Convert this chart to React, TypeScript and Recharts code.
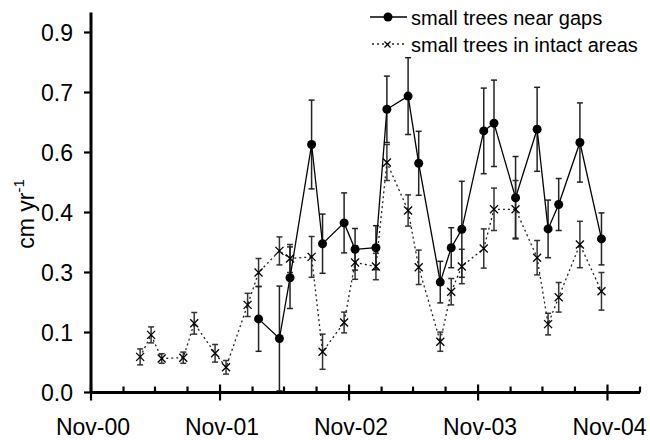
import React from "react";
import { LineChart, Line, XAxis, YAxis, ErrorBar } from "recharts";

// Sampling dates (intact-area series covers all of them)
const sampleDates = [
  "2001-03-20", "2001-04-20", "2001-05-20", "2001-07-20", "2001-08-20",
  "2001-10-18", "2001-11-18", "2002-01-18", "2002-02-18", "2002-04-18",
  "2002-05-18", "2002-07-18", "2002-08-18", "2002-10-18", "2002-11-18",
  "2003-01-16", "2003-02-16", "2003-04-17", "2003-05-17", "2003-07-17",
  "2003-08-17", "2003-09-16", "2003-11-17", "2003-12-16", "2004-02-15",
  "2004-04-16", "2004-05-17", "2004-06-16", "2004-08-15", "2004-10-15",
];

// Small trees in intact areas: mean growth and error (cm/yr)
const intactMean = [
  0.089, 0.144, 0.085, 0.087, 0.173, 0.098, 0.063, 0.219, 0.3, 0.354,
  0.335, 0.339, 0.102, 0.175, 0.325, 0.315, 0.575, 0.455, 0.313, 0.127,
  0.252, 0.315, 0.36, 0.458, 0.458, 0.337, 0.171, 0.238, 0.37, 0.253,
];
const intactErr = [
  0.02, 0.02, 0.012, 0.014, 0.027, 0.022, 0.017, 0.029, 0.035, 0.035,
  0.035, 0.051, 0.044, 0.026, 0.042, 0.033, 0.045, 0.039, 0.043, 0.024,
  0.033, 0.043, 0.049, 0.053, 0.072, 0.043, 0.027, 0.037, 0.058, 0.047,
];

// Small trees near gaps start at the 9th sampling date
const gapStartIndex = 8;
const gapMean = [
  0.184, 0.135, 0.287, 0.62, 0.372, 0.424, 0.358, 0.362, 0.708, 0.741,
  0.573, 0.276, 0.362, 0.408, 0.654, 0.673, 0.487, 0.658, 0.409, 0.47,
  0.625, 0.384,
];
const gapErr = [
  0.081, 0.131, 0.077, 0.111, 0.074, 0.075, 0.052, 0.055, 0.083, 0.096,
  0.08, 0.052, 0.05, 0.12, 0.107, 0.108, 0.103, 0.105, 0.072, 0.065,
  0.099, 0.065,
];

// Axis ticks and labels
const yTicks = [0, 0.15, 0.3, 0.45, 0.6, 0.75, 0.9];
const yTickLabels = ["0.0", "0.1", "0.3", "0.4", "0.6", "0.7", "0.9"];
const xLabelYears = [2000, 2001, 2002, 2003, 2004];
const xTickLabels = ["Nov-00", "Nov-01", "Nov-02", "Nov-03", "Nov-04"];

const seriesNames = ["small trees near gaps", "small trees in intact areas"];

const FONT = "'Liberation Sans', Arial, Helvetica, sans-serif";
const TICK_FS = 23;
const toT = (s: string) => Date.parse(s + "T00:00:00Z");

const intactRows = sampleDates.map((d, i) => ({
  t: toT(d),
  value: intactMean[i],
  err: intactErr[i],
}));
const gapRows = gapMean.map((v, i) => ({
  t: toT(sampleDates[gapStartIndex + i]),
  value: v,
  err: gapErr[i],
}));

const xDomain = [Date.UTC(2000, 10, 1), Date.UTC(2005, 1, 1)];
const xTicks: number[] = [];
for (let m = 0; m <= 51; m += 3) {
  xTicks.push(Date.UTC(2000, 10 + m, 1));
}

const XTick = (props: any) => {
  const { x, y, payload } = props;
  const d = new Date(payload.value);
  const major = d.getUTCMonth() === 10;
  const idx = xLabelYears.indexOf(d.getUTCFullYear());
  return (
    <g>
      <line
        x1={x}
        x2={x}
        y1={major ? y - 8 : y - 6}
        y2={major ? y + 8 : y}
        stroke="#000"
        strokeWidth={2.2}
      />
      {major && idx >= 0 && (
        <text
          x={x + 2}
          y={y + 42}
          textAnchor="middle"
          fontSize={TICK_FS}
          fontFamily={FONT}
          fill="#000"
        >
          {xTickLabels[idx]}
        </text>
      )}
    </g>
  );
};

const YTick = (props: any) => {
  const { x, y, payload } = props;
  const idx = yTicks.indexOf(payload.value);
  return (
    <g>
      <line x1={x - 7} x2={x} y1={y} y2={y} stroke="#000" strokeWidth={2.2} />
      <text
        x={x - 18}
        y={y + 8.5}
        textAnchor="end"
        fontSize={TICK_FS}
        fontFamily={FONT}
        fill="#000"
      >
        {idx >= 0 ? yTickLabels[idx] : ""}
      </text>
    </g>
  );
};

const YTitle = () => (
  <text
    transform="translate(34,214) rotate(-90)"
    textAnchor="middle"
    fontSize={23}
    fontFamily={FONT}
    fill="#000"
  >
    cm yr
    <tspan dy={-10} fontSize={15}>
      -1
    </tspan>
  </text>
);

const GapDot = (props: any) => {
  const { cx, cy } = props;
  if (cx == null || cy == null) return null;
  return <circle cx={cx} cy={cy} r={4.5} fill="#000" />;
};

const CrossDot = (props: any) => {
  const { cx, cy } = props;
  if (cx == null || cy == null) return null;
  return (
    <g stroke="#000" strokeWidth={1.3}>
      <line x1={cx - 4} y1={cy - 4} x2={cx + 4} y2={cy + 4} />
      <line x1={cx - 4} y1={cy + 4} x2={cx + 4} y2={cy - 4} />
    </g>
  );
};

// Two-entry key in the top right corner
const LegendBox = () => (
  <svg
    width={285}
    height={60}
    style={{ position: "absolute", left: 365, top: 0, display: "block" }}
  >
    <g transform="translate(-365,0)">
      <line x1={370} x2={407} y1={17} y2={17} stroke="#000" strokeWidth={1.3} />
      <circle cx={388} cy={17} r={4.5} fill="#000" />
      <text x={411} y={24.5} fontSize={20} fontFamily={FONT} fill="#000">
        {seriesNames[0]}
      </text>
      <line
        x1={372}
        x2={406}
        y1={44}
        y2={44}
        stroke="#222"
        strokeWidth={1.3}
        strokeDasharray="2 3"
      />
      <g stroke="#000" strokeWidth={1.2}>
        <line x1={384.5} y1={41.5} x2={390.5} y2={47.5} />
        <line x1={384.5} y1={47.5} x2={390.5} y2={41.5} />
      </g>
      <text x={411} y={51.5} fontSize={20} fontFamily={FONT} fill="#000">
        {seriesNames[1]}
      </text>
    </g>
  </svg>
);

export default function App() {
  return (
    <div
      style={{
        position: "absolute",
        left: 0,
        top: 0,
        width: 650,
        height: 440,
        background: "#fff",
      }}
    >
      <LineChart
        width={650}
        height={440}
        margin={{ top: 12.5, right: 10, bottom: 7.5, left: 0 }}
      >
        <XAxis
          dataKey="t"
          type="number"
          domain={xDomain}
          ticks={xTicks}
          allowDataOverflow
          height={40}
          axisLine={{ stroke: "#000", strokeWidth: 3 }}
          tickLine={false}
          tickSize={0}
          tickMargin={0}
          tick={<XTick />}
          interval={0}
        />
        <YAxis
          type="number"
          domain={[0, 0.95]}
          ticks={yTicks}
          width={91}
          axisLine={{ stroke: "#000", strokeWidth: 3 }}
          tickLine={false}
          tickSize={0}
          tickMargin={0}
          tick={<YTick />}
          interval={0}
          label={<YTitle />}
        />
        <Line
          data={intactRows}
          dataKey="value"
          name={seriesNames[1]}
          stroke="#222"
          strokeWidth={1.3}
          strokeDasharray="2 3"
          dot={<CrossDot />}
          activeDot={false}
          isAnimationActive={false}
        >
          <ErrorBar dataKey="err" width={3} stroke="#333" strokeWidth={1.5} />
        </Line>
        <Line
          data={gapRows}
          dataKey="value"
          name={seriesNames[0]}
          stroke="#000"
          strokeWidth={1.3}
          dot={<GapDot />}
          activeDot={false}
          isAnimationActive={false}
        >
          <ErrorBar dataKey="err" width={3} stroke="#222" strokeWidth={1.5} />
        </Line>
      </LineChart>
      <LegendBox />
    </div>
  );
}
